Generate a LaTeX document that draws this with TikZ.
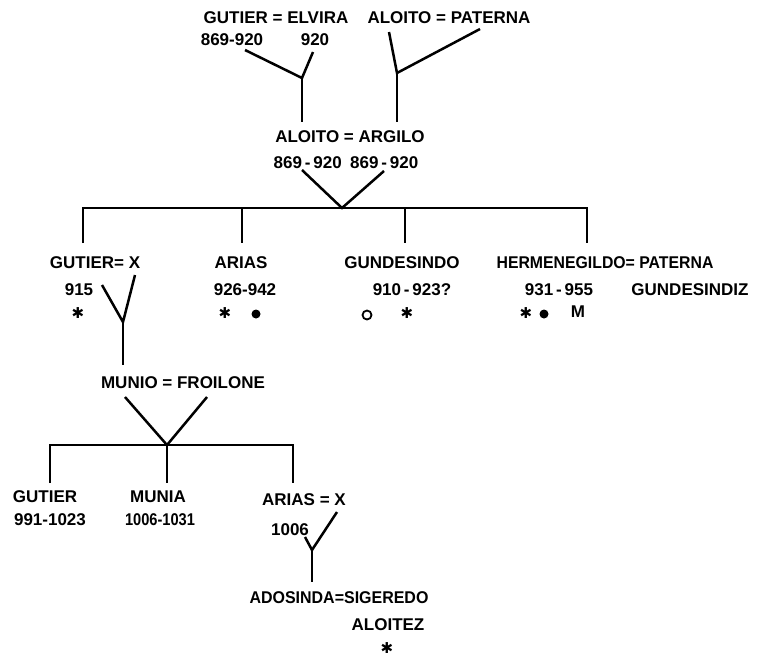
\documentclass[tikz,border=0pt]{standalone}
\usepackage{fontspec}
\setmainfont{Liberation Sans}
\newfontfamily\symfont{DejaVu Sans}
\newcommand{\sqz}[2]{\scalebox{#1}[1]{#2}}
\begin{document}
\begin{tikzpicture}[x=1pt,y=-1pt,
  lbl/.style={font=\fontsize{17}{19}\selectfont\bfseries, inner sep=0pt},
  ast/.style={font=\symfont\fontsize{15}{15}\selectfont, inner sep=0pt},
  ln/.style={line width=2.5pt},
  dotf/.style={fill=black, circle, inner sep=0pt, minimum size=9pt},
  doto/.style={draw=black, line width=1.8pt, circle, inner sep=0pt, minimum size=9pt}]
\useasboundingbox[fill=white] (0,0) rectangle (762,659);

% generation 1
\node[lbl] (ge) at (276,18) {GUTIER = ELVIRA};
\node[lbl] (gd) at (232,40) {869-920};
\node[lbl] (ed) at (315,40) {920};
\node[lbl] (ap) at (449,18) {ALOITO = PATERNA};
\coordinate (a1) at (245,50); \coordinate (a2) at (313,52); \coordinate (j1) at (302,78);
\coordinate (b1) at (389,32); \coordinate (b2) at (480,29); \coordinate (j2) at (397,73);
\draw[ln] (a1) -- (j1) -- (a2); \draw[ln] (j1) -- (302,122);
\draw[ln] (b1) -- (j2) -- (b2); \draw[ln] (j2) -- (397,122);

% generation 2
\node[lbl] (aa) at (350,137) {ALOITO = ARGILO};
\node[lbl] (aad) at (346,163) {869\,-\,920\enspace 869\,-\,920};
\coordinate (c1) at (302,170); \coordinate (c2) at (384,171); \coordinate (j3) at (342,208);
\draw[ln] (c1) -- (j3) -- (c2);
\coordinate (h1) at (83,208); \coordinate (h2) at (587,208);
\draw[ln] (83,243) -- (h1) -- (h2) -- (587,243);
\draw[ln] (242,208) -- (242,243);
\draw[ln] (405,208) -- (405,243);

% generation 3
\node[lbl] (gx) at (95,263) {GUTIER= X};
\node[lbl] (gxd) at (79,290) {915};
\node[ast] (gxa) at (78,313) {✱};
\coordinate (d1) at (102,285); \coordinate (d2) at (135,275); \coordinate (j4) at (123,322);
\draw[ln] (d1) -- (j4) -- (d2); \draw[ln] (j4) -- (123,365);

\node[lbl] (ar) at (241,263) {ARIAS};
\node[lbl] (ard) at (245,290) {926-942};
\node[ast] (ara) at (225,313) {✱};
\node[dotf] (arb) at (256,314) {};

\node[lbl] (gu) at (402,263) {GUNDESINDO};
\node[lbl] (gud) at (412,290) {910\,-\,923?};
\node[doto] (guo) at (367,315) {};
\node[ast] (gua) at (407,313) {✱};

\node[lbl] (he) at (605,263) {\sqz{0.93}{HERMENEGILDO= PATERNA}};
\node[lbl] (hed) at (559,290) {931\,-\,955};
\node[lbl] (pg) at (690,290) {GUNDESINDIZ};
\node[ast] (hea) at (526,313) {✱};
\node[dotf] (heb) at (544,314) {};
\node[lbl] (hem) at (578,312) {M};

% generation 4
\node[lbl] (mf) at (183,383) {MUNIO = FROILONE};
\coordinate (e1) at (125,397); \coordinate (e2) at (207,397); \coordinate (j5) at (167,445);
\draw[ln] (e1) -- (j5) -- (e2);
\draw[ln] (50,483) -- (50,445) -- (293,445) -- (293,483);
\draw[ln] (j5) -- (167,483);

\node[lbl] (g4) at (45,497) {GUTIER};
\node[lbl] (g4d) at (50,520) {991-1023};
\node[lbl] (m4) at (158,497) {MUNIA};
\node[lbl] (m4d) at (160,520) {\sqz{0.86}{1006-1031}};
\node[lbl] (a4) at (304,500) {ARIAS = X};
\node[lbl] (a4d) at (290,530) {1006};
\coordinate (f1) at (305,537); \coordinate (f2) at (337,512); \coordinate (j6) at (312,550);
\draw[ln] (f1) -- (j6) -- (f2); \draw[ln] (j6) -- (312,582);

% generation 5
\node[lbl] (as) at (339,598) {\sqz{0.94}{ADOSINDA=SIGEREDO}};
\node[lbl] (al) at (388,625) {ALOITEZ};
\node[ast] (ala) at (387,648) {✱};
\end{tikzpicture}
\end{document}
